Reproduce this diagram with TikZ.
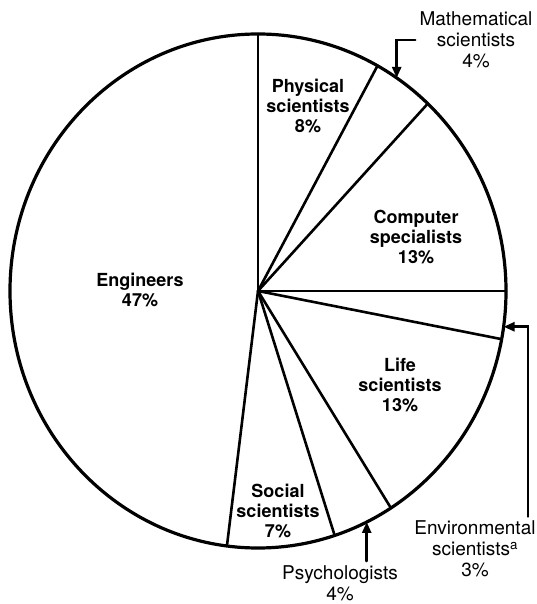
\documentclass[tikz,border=0pt]{standalone}
\usepackage{fontspec}
\setmainfont{TeX Gyre Heros}
\usetikzlibrary{calc}
\usetikzlibrary{arrows.meta}

\begin{document}
\begin{tikzpicture}[
            x = 1pt, y = 1pt, % one unit per pixel
            > = {Triangle[length=11pt,width=9pt]}, % arrow head style
            line width = 2.6pt, % line style
            line cap = round
        ]

        \tikzstyle{inside}=[
            font = \fontsize{18}{20}\selectfont\bfseries,
            align = center,
            inner sep = 2pt
        ]

        \tikzstyle{outside}=[
            font = \fontsize{19}{21}\selectfont,
            align = center,
            inner sep = 3pt
        ]

        \useasboundingbox (0,0) rectangle (537,604);

	% pie
        \coordinate (O) at (258,313);
        \draw[line width = 3.2pt] (O) ellipse [x radius = 248, y radius = 257];

        \draw (O) -- ++(90:248 and 257);
        \draw (O) -- ++(61.2:248 and 257);
        \draw (O) -- ++(46.8:248 and 257);
        \draw (O) -- ++(0:248 and 257);
        \draw (O) -- ++(-10.8:248 and 257);
        \draw (O) -- ++(-57.6:248 and 257);
        \draw (O) -- ++(-72:248 and 257);
        \draw (O) -- ++(-97.2:248 and 257);

	% labels inside
        \node[inside] (PHY) at (308,498) {Physical\\scientists\\8\%};
        \node[inside] (COMP) at (416,367) {Computer\\specialists\\13\%};
        \node[inside] (LIFE) at (400,219) {Life\\scientists\\13\%};
        \node[inside] (SOC) at (278,93) {Social\\scientists\\7\%};
        \node[inside] (ENG) at (140,314) {Engineers\\47\%};

         % labels outside
        \node[outside] (MATH) at (476,564) {Mathematical\\scientists\\4\%};
        \node[outside] (ENV) at (475,55) {Environmental\\scientists\textsuperscript{a}\\3\%};
        \node[outside] (PSY) at (340,21) {Psychologists\\4\%};

         % pointers
        \coordinate (MT) at ($(O)+(56:248 and 257)$);
        \coordinate (ET) at ($(O)+(-8:248 and 257)$);
        \coordinate (PT) at ($(O)+(-64:248 and 257)$);

        \draw[->] (MATH.west) -| (MT);
        \draw[->] ($(ENV.north)+(53,0)$) |- (ET);
        \draw[->] (PSY.north -| PT) -- (PT);

\end{tikzpicture}
\end{document}
